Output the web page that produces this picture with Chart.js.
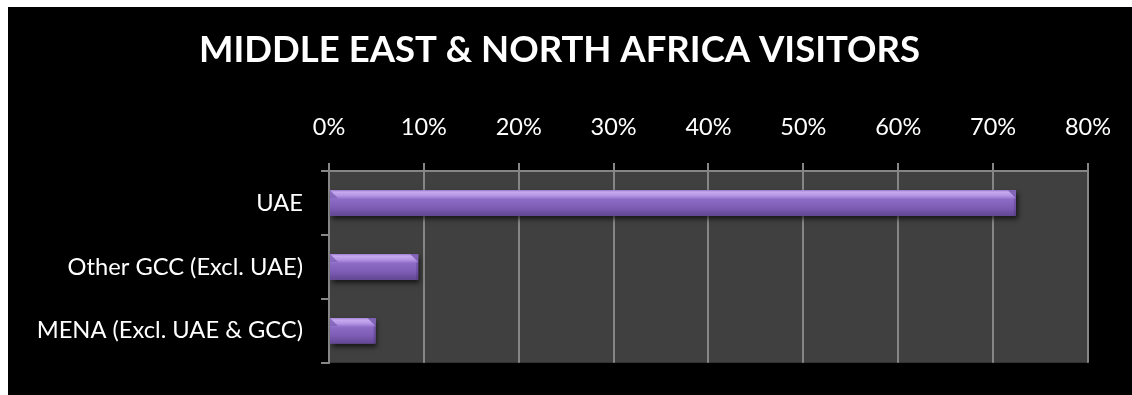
<!DOCTYPE html>
<html>
<head>
<meta charset="utf-8">
<script src="https://cdn.jsdelivr.net/npm/chart.js@4/dist/chart.umd.min.js"></script>
<style>
  html, body { margin: 0; padding: 0; background: #fff; }
  #wrap { position: absolute; left: 8px; top: 7px; width: 1124px; height: 388px; background: #000; }
</style>
</head>
<body>
<div id="wrap"><canvas id="graphCanvas" width="1124" height="388"></canvas></div>
<script>
// 地域別の訪問者割合 (%)
const categories = ["UAE", "Other GCC (Excl. UAE)", "MENA (Excl. UAE & GCC)"];
const shares = [72.4, 9.4, 4.9];
const axisMax = 80;
const axisStep = 10;

const gridGrey = '#868686';

// プロット領域の背景
const plotBackground = {
    id: 'plotBackground',
    beforeDraw(chart) {
        const { ctx, chartArea: a } = chart;
        ctx.save();
        ctx.fillStyle = '#404040';
        ctx.fillRect(a.left, a.top, a.right - a.left, a.bottom - a.top);
        ctx.restore();
    }
};

// バーの影と立体的なハイライト
const bevelBars = {
    id: 'bevelBars',
    beforeDatasetsDraw(chart) {
        const ctx = chart.ctx;
        ctx.save();
        ctx.shadowColor = 'rgba(0,0,0,0.65)';
        ctx.shadowBlur = 5;
        ctx.shadowOffsetX = 2;
        ctx.shadowOffsetY = 3;
    },
    afterDatasetsDraw(chart) {
        const ctx = chart.ctx;
        ctx.restore();
        ctx.save();
        chart.getDatasetMeta(0).data.forEach(bar => {
            const { x, y, base, height } = bar.getProps(['x', 'y', 'base', 'height'], true);
            const top = y - height / 2, bottom = y + height / 2;
            const left = Math.min(base, x), right = Math.max(base, x);
            const g = ctx.createLinearGradient(0, top, 0, bottom);
            g.addColorStop(0, '#a587d6');
            g.addColorStop(0.08, '#c6a9f0');
            g.addColorStop(0.22, '#b394e4');
            g.addColorStop(0.36, '#8d6bc6');
            g.addColorStop(0.7, '#7d5cb4');
            g.addColorStop(1, '#624693');
            ctx.fillStyle = g;
            ctx.fillRect(left, top, right - left, height);
            const b = Math.min(8, (right - left) / 4);
            // 左上の面取り
            ctx.fillStyle = 'rgba(125,95,180,0.8)';
            ctx.beginPath();
            ctx.moveTo(left, top);
            ctx.lineTo(left + b, top + b);
            ctx.lineTo(left, top + b);
            ctx.closePath();
            ctx.fill();
            // 右上の面取り
            ctx.fillStyle = 'rgba(110,80,165,0.75)';
            ctx.beginPath();
            ctx.moveTo(right - b, top);
            ctx.lineTo(right, top);
            ctx.lineTo(right, top + b);
            ctx.closePath();
            ctx.fill();
            // 右端のわずかな陰
            ctx.fillStyle = 'rgba(60,35,105,0.25)';
            ctx.fillRect(right - 2, top + b, 2, height - b);
        });
        ctx.restore();
    }
};

const ctx = document.getElementById('graphCanvas').getContext('2d');
new Chart(ctx, {
    type: 'bar',
    data: {
        labels: categories,
        datasets: [{
            data: shares,
            backgroundColor: '#8464b8',
            borderWidth: 0,
            barPercentage: 0.4,
            categoryPercentage: 1
        }]
    },
    plugins: [plotBackground, bevelBars],
    options: {
        indexAxis: 'y',
        responsive: false,
        animation: false,
        layout: { padding: { left: 16, right: 37, top: 0, bottom: 27 } },
        plugins: {
            legend: { display: false },
            tooltip: { enabled: false },
            title: {
                display: true,
                text: 'MIDDLE EAST & NORTH AFRICA VISITORS',
                color: '#ffffff',
                font: { family: 'Lato', size: 36.5, weight: 'bold', lineHeight: 1.2 },
                padding: { top: 21, bottom: 0 }
            }
        },
        scales: {
            x: {
                position: 'top',
                min: 0,
                max: axisMax,
                afterFit(scale) { scale.height = 99.2; },
                ticks: {
                    stepSize: axisStep,
                    color: '#ffffff',
                    padding: 21,
                    font: { family: 'Lato', size: 23.5 },
                    callback: v => v + '%'
                },
                grid: { color: gridGrey, lineWidth: 2, tickLength: 8 },
                border: { color: gridGrey, width: 2 }
            },
            y: {
                afterFit(scale) { scale.width = 305; },
                ticks: {
                    color: '#ffffff',
                    padding: 18,
                    font: { family: 'Lato', size: 23.7 }
                },
                grid: { color: gridGrey, lineWidth: 2, tickLength: 8, drawOnChartArea: false, offset: true },
                border: { color: gridGrey, width: 2 }
            }
        }
    }
});
</script>
</body>
</html>
